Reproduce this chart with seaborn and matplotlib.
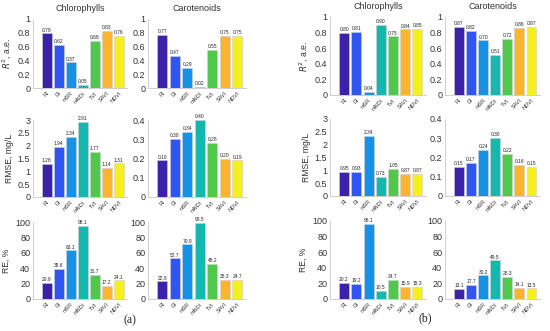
import numpy as np
import pandas as pd
import matplotlib
matplotlib.use("Agg")
import matplotlib.pyplot as plt
import seaborn as sns

# index names and colours (parula-like)
indices = ['RI', 'DI', 'mSR', 'mNDI', 'TVI', 'SAVI', 'NDVI']
colors = ['#3b22a8', '#2f55f2', '#1592e6', '#14b8ae', '#4fc84c', '#fbb42e', '#f5ef1c']

# panel (a)
a_chl_r2 = [0.79, 0.62, 0.37, 0.05, 0.68, 0.83, 0.76]
a_car_r2 = [0.77, 0.47, 0.29, 0.02, 0.55, 0.75, 0.75]
a_chl_rmse = [1.28, 1.94, 2.34, 2.91, 1.77, 1.14, 1.31]
a_car_rmse = [0.19, 0.30, 0.34, 0.40, 0.28, 0.20, 0.19]
a_chl_re = [20.9, 38.6, 63.1, 95.1, 31.7, 17.2, 24.1]
a_car_re = [22.8, 52.7, 70.9, 98.5, 45.2, 25.3, 24.7]

# panel (b)
b_chl_r2 = [0.80, 0.81, 0.04, 0.90, 0.75, 0.84, 0.85]
b_car_r2 = [0.87, 0.82, 0.70, 0.51, 0.72, 0.86, 0.87]
b_chl_rmse = [0.95, 0.93, 2.34, 0.73, 1.05, 0.87, 0.87]
b_car_rmse = [0.15, 0.17, 0.24, 0.30, 0.22, 0.16, 0.15]
b_chl_re = [20.2, 19.2, 96.1, 10.5, 24.7, 15.9, 15.3]
b_car_re = [13.1, 17.7, 30.2, 49.5, 28.3, 14.1, 13.5]

sns.set_style("white")
plt.rcParams['font.family'] = ['Liberation Sans', 'DejaVu Sans']

W, H = 550, 331
fig = plt.figure(figsize=(5.5, 3.31), dpi=100)

cols = [(33, 127), (148, 246), (330, 426), (445, 540)]
rows_a = [(19, 88), (120, 197), (222, 299)]
rows_b = [(17, 95), (119, 196), (221, 299)]

row_info = [
    (r'$R^2$, a.e.', (0, 1), np.arange(0, 1.01, 0.2), '{:.2f}'),
    ('RMSE, mg/L', None, None, '{:.2f}'),
    ('RE, %', (0, 100), np.arange(0, 101, 20), '{:.1f}'),
]

data = [
    [a_chl_r2, a_car_r2, b_chl_r2, b_car_r2],
    [a_chl_rmse, a_car_rmse, b_chl_rmse, b_car_rmse],
    [a_chl_re, a_car_re, b_chl_re, b_car_re],
]
rmse_lims = [(0, 3, 0.5), (0, 0.4, 0.1), (0, 3, 0.5), (0, 0.4, 0.1)]

for r in range(3):
    for c in range(4):
        x0, x1 = cols[c]
        y0, y1 = (rows_a if c < 2 else rows_b)[r]
        ax = fig.add_axes([x0 / W, 1 - y1 / H, (x1 - x0) / W, (y1 - y0) / H])
        df = pd.DataFrame({'index': indices, 'value': data[r][c]})
        sns.barplot(data=df, x='index', y='value', hue='index', palette=colors,
                    legend=False, width=0.82, saturation=1, edgecolor='#d0d0d0',
                    linewidth=0.4, ax=ax)
        label, lim, ticks, fmt = row_info[r]
        if r == 1:
            lo, hi, st = rmse_lims[c]
            lim = (lo, hi)
            ticks = np.arange(lo, hi + st / 2, st)
        ax.set_ylim(*lim)
        ax.set_yticks(ticks)
        ax.set_yticklabels(['{:g}'.format(round(t, 2)) for t in ticks], fontsize=6.5, color='#333333')
        ax.set_xlim(-1.15, 6.7)
        ax.set_xticks(range(7))
        ax.set_xticklabels(indices, rotation=45, ha='right', rotation_mode='anchor',
                           fontsize=4, color='#333333')
        ax.tick_params(axis='both', length=0, pad=2)
        ax.set_xlabel('')
        ax.set_ylabel(label if c in (0, 2) else '', fontsize=6.2, color='#333333', labelpad=3)
        for s in ['top', 'right']:
            ax.spines[s].set_visible(False)
        for s in ['left', 'bottom']:
            ax.spines[s].set_color('#c8c8c8')
            ax.spines[s].set_linewidth(0.6)
        # value labels on top of each bar
        bars = sorted(ax.patches, key=lambda p: p.get_x())
        for p in bars:
            h = p.get_height()
            ax.annotate(fmt.format(h), (p.get_x() + p.get_width() / 2, h),
                        xytext=(0, 0.6), textcoords='offset points',
                        ha='center', va='bottom', fontsize=3.5, color='#222222')
        if r == 0:
            ax.set_title('Chlorophylls' if c in (0, 2) else 'Carotenoids',
                         fontsize=6.5, color='#333333', pad=6)

fig.text(130 / W, 1 - 320 / H, '(a)', fontsize=8.5, family='Liberation Serif', ha='center', va='center')
fig.text(425 / W, 1 - 318 / H, '(b)', fontsize=8.5, family='Liberation Serif', ha='center', va='center')

fig.savefig('out.png', dpi=100)
